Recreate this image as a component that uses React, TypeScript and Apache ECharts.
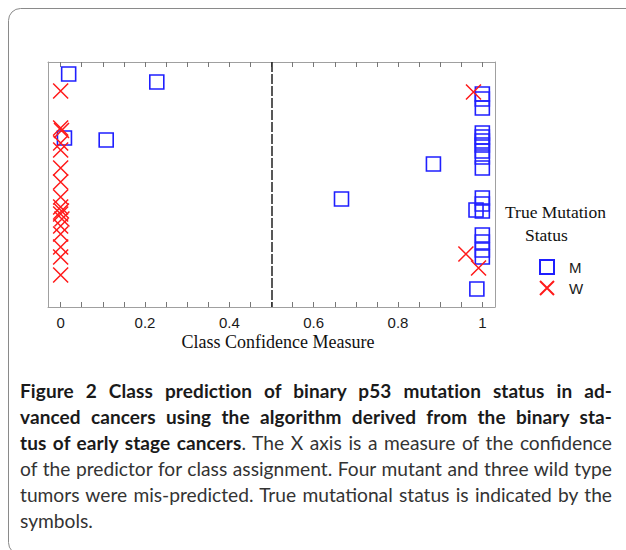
import React, { useEffect, useRef } from "react";
import * as echarts from "echarts";

// Class confidence measure (x) and sample position (y) for true mutants (M)
const mutantX = [0.019, 0.228, 0.009, 0.108, 0.666, 0.884, 0.987, 0.985,
  1, 1, 1, 1, 1, 1, 1, 1, 1, 1, 1, 1, 1, 1, 1, 1, 1];
const mutantY = [2.4, 4.0, 15.2, 15.6, 27.4, 20.4, 45.4, 29.6,
  6.4, 7.4, 9.2, 14.2, 15.0, 15.8, 16.6, 17.8, 19.0, 21.2, 27.2, 28.4, 29.8, 34.6, 36.0, 37.6, 39.0];
// ... and for true wild type (W)
const wildX = [0, 0, 0.002, 0, 0, 0, 0, 0, 0, 0.002, 0, 0.003, 0, 0, 0, 0, 0, 0.979, 0.961, 0.991];
const wildY = [5.8, 13.2, 13.7, 16.2, 17.6, 21.2, 24.0, 27.0, 29.0, 29.8, 30.4, 31.4, 32.8, 34.4, 37.0, 39.0, 42.6, 6.0, 38.4, 41.2];

const xLabelValues = [0, 0.2, 0.4, 0.6, 0.8, 1];
const xTickValues = [0, 0.05, 0.1, 0.15, 0.2, 0.25, 0.3, 0.35, 0.4, 0.45, 0.5, 0.55, 0.6, 0.65, 0.7, 0.75, 0.8, 0.85, 0.9, 0.95, 1];
const threshold = 0.5;

const seriesNames = ["M", "W"];

const AXIS = "#a0a0a0";

export default function App() {
  const ref = useRef<HTMLDivElement>(null);
  useEffect(() => {
    if (!ref.current) return;
    const chart = echarts.init(ref.current, null, { renderer: "svg" });
    const xBase = {
      type: "value" as const,
      min: -0.03,
      max: 1.03,
      splitLine: { show: false },
      axisLine: { show: true, onZero: false, lineStyle: { color: AXIS, width: 1 } },
      axisTick: { show: true, inside: true, length: 5, customValues: xTickValues, lineStyle: { color: "#777", width: 1 } },
    };
    const yBase = {
      type: "value" as const, min: 0, max: 49, inverse: true,
      splitLine: { show: false }, axisTick: { show: false }, axisLabel: { show: false },
      axisLine: { show: true, onZero: false, lineStyle: { color: AXIS, width: 1 } },
    };
    chart.setOption({
      animation: false,
      backgroundColor: "#fff",
      grid: { left: 48, top: 62, width: 447, height: 245 },
      xAxis: [
        {
          ...xBase,
          position: "bottom",
          axisLabel: {
            customValues: xLabelValues,
            margin: 8,
            color: "#1a1a1a",
            fontSize: 15,
            fontFamily: "Liberation Sans",
            formatter: (v: number) => String(Math.round(v * 10) / 10),
          },
          name: "Class Confidence Measure",
          nameLocation: "middle",
          nameGap: 26,
          nameTextStyle: { fontFamily: "Liberation Serif", fontSize: 18, color: "#111", padding: [0, 0, 0, 13] },
        },
        { ...xBase, position: "top", axisLabel: { show: false } },
      ],
      yAxis: [
        { ...yBase, position: "left" },
        { ...yBase, position: "right" },
      ],
      legend: {
        data: seriesNames,
        orient: "vertical",
        left: 539,
        top: 259,
        padding: 0,
        itemWidth: 14,
        itemHeight: 14,
        itemGap: 5,
        textStyle: { fontFamily: "Liberation Sans", fontSize: 15, color: "#1a1a1a", padding: [0, 0, 0, 10] },
      },
      graphic: [
        {
          type: "rect",
          silent: true,
          shape: { x: 8.5, y: 8.5, width: 630, height: 546, r: 12 },
          style: { fill: "none", stroke: "#8a8a8a", lineWidth: 1 },
        },
        {
          type: "text", left: 505, top: 203,
          style: { text: "True Mutation", font: "17.5px 'Liberation Serif'", fill: "#111" },
        },
        {
          type: "text", left: 525, top: 226,
          style: { text: "Status", font: "17.5px 'Liberation Serif'", fill: "#111" },
        },
      ],
      series: [
        {
          name: "M",
          type: "scatter",
          data: mutantX.map((x, i) => [x, mutantY[i]]),
          symbol: "rect",
          symbolSize: 14,
          itemStyle: { color: "rgba(0,0,0,0)", borderColor: "#1f1fff", borderWidth: 1.6, opacity: 1 },
          markLine: {
            silent: true,
            symbol: "none",
            label: { show: false },
            lineStyle: { color: "#222", type: [10, 2], width: 1.5 },
            data: [{ xAxis: threshold }],
          },
        },
        {
          name: "W",
          type: "scatter",
          data: wildX.map((x, i) => [x, wildY[i]]),
          symbol: "path://M0,0L10,10M10,0L0,10",
          symbolSize: 15,
          itemStyle: { color: "rgba(0,0,0,0)", borderColor: "#ff1a1a", borderWidth: 1.5, opacity: 1 },
        },
      ],
    });
    return () => chart.dispose();
  }, []);

  const lineStyle: React.CSSProperties = {
    textAlign: "justify",
    textAlignLast: "justify",
    whiteSpace: "nowrap",
    height: 26,
  };
  const boldStyle: React.CSSProperties = { color: "#1a1a1a", fontSize: 19, letterSpacing: 0.1 };

  return (
    <div style={{ position: "absolute", left: 0, top: 0, width: 626, height: 550, background: "#fff" }}>
      <div ref={ref} style={{ position: "absolute", left: 0, top: 0, width: 626, height: 550 }} />
      <div
        style={{
          position: "absolute",
          left: 20,
          top: 378,
          width: 592,
          fontFamily: "Lato, 'Noto Sans', sans-serif",
          fontSize: 19.2,
          lineHeight: "26px",
          color: "#333",
        }}
      >
        <div style={lineStyle}><b style={boldStyle}>Figure 2 Class prediction of binary p53 mutation status in ad-</b></div>
        <div style={lineStyle}><b style={boldStyle}>vanced cancers using the algorithm derived from the binary sta-</b></div>
        <div style={lineStyle}><b style={boldStyle}>tus of early stage cancers</b>. The X axis is a measure of the confidence</div>
        <div style={lineStyle}>of the predictor for class assignment. Four mutant and three wild type</div>
        <div style={lineStyle}>tumors were mis-predicted. True mutational status is indicated by the</div>
        <div style={{ height: 26 }}>symbols.</div>
      </div>
    </div>
  );
}
